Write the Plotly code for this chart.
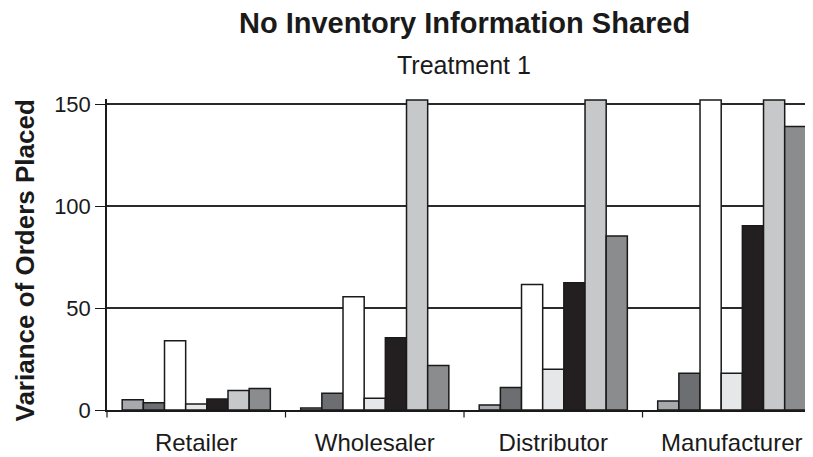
import plotly.graph_objects as go

categories = ["Retailer", "Wholesaler", "Distributor", "Manufacturer"]
series_names = ["S1", "S2", "S3", "S4", "S5", "S6", "S7"]
series_values = [
    [5, 1, 2.5, 4.4],
    [3.5, 8.2, 11, 18],
    [34, 55.5, 61.5, 152],
    [3, 5.7, 20, 18],
    [5.4, 35.4, 62.4, 90.3],
    [9.5, 152, 152, 152],
    [10.5, 21.8, 85.3, 139],
]
series_colors = ["#a7a9ac", "#6d6e71", "#ffffff", "#e6e7e8", "#231f20", "#c7c8ca", "#8a8c8e"]
y_ticks = [0, 50, 100, 150]

FONT = "Liberation Sans, Arial, Helvetica, sans-serif"
INK = "#1a1a1a"

fig = go.Figure()
for name, vals, col in zip(series_names, series_values, series_colors):
    fig.add_trace(go.Bar(
        x=list(range(len(categories))), y=vals, name=name,
        marker=dict(color=col, line=dict(color=INK, width=1.5)),
        showlegend=False,
    ))

# the page body adds an 8px offset, so the figure is sized to 805x449
fig.update_layout(
    width=805, height=449,
    margin=dict(l=99, r=0, t=91, b=47),
    paper_bgcolor="white", plot_bgcolor="white",
    barmode="group", bargap=0.17, bargroupgap=0,
    font=dict(family=FONT, color=INK),
    xaxis=dict(
        range=[-0.5, 3.455], automargin=False,
        tickmode="array", tickvals=list(range(len(categories))), ticktext=categories,
        tickfont=dict(size=24, color=INK),
        ticks="", ticklabelstandoff=10,
        showgrid=False, showline=True, linecolor=INK, linewidth=1.5,
        zeroline=False,
    ),
    yaxis=dict(
        range=[0, 152.45], automargin=False,
        tickmode="array", tickvals=y_ticks,
        tickfont=dict(size=22, color=INK),
        ticks="outside", ticklen=10, tickwidth=1.2, tickcolor=INK,
        showgrid=True, gridcolor="#2a2a2a", gridwidth=1.5,
        showline=True, linecolor=INK, linewidth=1.5,
        zeroline=False,
    ),
    annotations=[
        dict(text="<b>No Inventory Information Shared</b>", xref="paper", yref="paper",
             x=0.50, xshift=4, y=1.0, yshift=94, showarrow=False, font=dict(size=29, color=INK)),
        dict(text="Treatment 1", xref="paper", yref="paper",
             x=0.50, xshift=4, y=1.0, yshift=50, showarrow=False, font=dict(size=25, color=INK)),
        dict(text="<b>Variance of Orders Placed</b>", xref="paper", yref="paper",
             x=0, xshift=-100, y=0.5, yshift=-6, textangle=-90, showarrow=False,
             font=dict(size=26, color=INK)),
    ],
)

# category boundary ticks on the x axis
for b in [-0.5, 0.5, 1.5, 2.5]:
    fig.add_annotation(x=b, y=0, xref="x", yref="paper", ax=0, ay=9, axref="pixel", ayref="pixel",
                       showarrow=True, arrowhead=0, arrowwidth=1.2, arrowcolor=INK, text="")

fig.write_html("out.html")
